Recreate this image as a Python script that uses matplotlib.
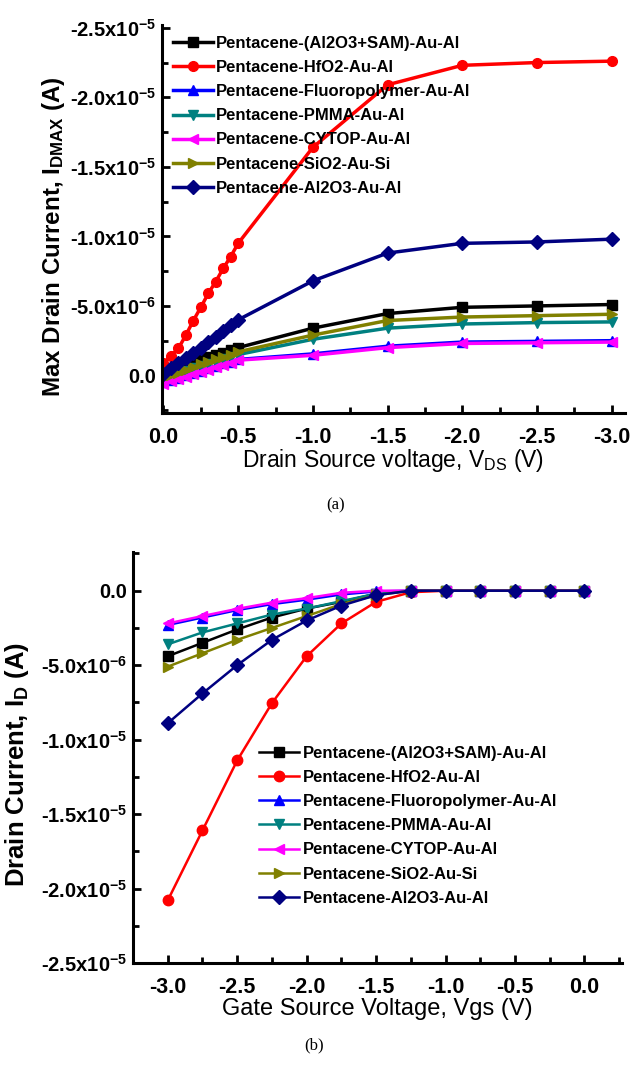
import matplotlib
matplotlib.use('Agg')
import matplotlib.pyplot as plt
from matplotlib.ticker import MultipleLocator, FuncFormatter

plt.rcParams['font.family'] = ['Liberation Sans', 'DejaVu Sans']
plt.rcParams['mathtext.fontset'] = 'custom'
plt.rcParams['mathtext.rm'] = 'Liberation Sans'
plt.rcParams['mathtext.bf'] = 'Liberation Sans:bold'
plt.rcParams['mathtext.it'] = 'Liberation Sans:italic'
plt.rcParams['axes.unicode_minus'] = False

labels = ['Pentacene-(Al2O3+SAM)-Au-Al', 'Pentacene-HfO2-Au-Al', 'Pentacene-Fluoropolymer-Au-Al',
          'Pentacene-PMMA-Au-Al', 'Pentacene-CYTOP-Au-Al', 'Pentacene-SiO2-Au-Si', 'Pentacene-Al2O3-Au-Al']
colors = ['black', '#ff0000', '#0000ff', '#008080', '#ff00ff', '#808000', '#000080']
markers = ['s', 'o', '^', 'v', '<', '>', 'D']

# (a) max drain current vs Vds, values in 1e-6 A
vds = [0.0, -0.05, -0.1, -0.15, -0.2, -0.25, -0.3, -0.35, -0.4, -0.45, -0.5, -1.0, -1.5, -2.0, -2.5, -3.0]
idmax_sam = [-0.1, -0.3, -0.5, -0.7, -0.9, -1.1, -1.3, -1.45, -1.65, -1.8, -2.0, -3.4, -4.45, -4.9, -5.0, -5.1]
idmax_hfo2 = [-0.9, -1.4, -1.95, -2.9, -3.95, -4.9, -5.9, -6.75, -7.7, -8.55, -9.5, -16.4, -20.9, -22.3, -22.5, -22.6]
idmax_fluoro = [0.5, 0.33, 0.16, -0.01, -0.18, -0.35, -0.52, -0.69, -0.86, -1.0, -1.15, -1.55, -2.1, -2.4, -2.45, -2.5]
idmax_pmma = [0.3, 0.1, -0.1, -0.3, -0.5, -0.65, -0.85, -1.0, -1.2, -1.35, -1.5, -2.6, -3.4, -3.7, -3.8, -3.85]
idmax_cytop = [0.6, 0.43, 0.26, 0.09, -0.08, -0.25, -0.42, -0.59, -0.76, -0.93, -1.1, -1.45, -2.0, -2.3, -2.35, -2.4]
idmax_sio2 = [0.2, 0.0, -0.2, -0.4, -0.6, -0.8, -0.95, -1.15, -1.3, -1.5, -1.7, -2.9, -3.95, -4.2, -4.3, -4.4]
idmax_al2o3 = [-0.1, -0.5, -0.9, -1.25, -1.65, -2.0, -2.4, -2.8, -3.2, -3.6, -4.0, -6.8, -8.8, -9.5, -9.6, -9.8]

# (b) drain current vs Vgs, values in 1e-6 A
vgs = [-3.0, -2.75, -2.5, -2.25, -2.0, -1.75, -1.5, -1.25, -1.0, -0.75, -0.5, -0.25, 0.0]
id_sam = [-4.4, -3.5, -2.6, -1.8, -1.2, -0.75, -0.2, 0, 0, 0, 0, 0, 0]
id_hfo2 = [-20.8, -16.1, -11.4, -7.55, -4.4, -2.2, -0.75, -0.1, 0, 0, 0, 0, 0]
id_fluoro = [-2.3, -1.8, -1.3, -0.9, -0.6, -0.25, -0.05, 0, 0, 0, 0, 0, 0]
id_pmma = [-3.6, -2.8, -2.2, -1.6, -1.2, -0.7, -0.2, 0, 0, 0, 0, 0, 0]
id_cytop = [-2.2, -1.7, -1.22, -0.8, -0.5, -0.14, 0, 0, 0, 0, 0, 0, 0]
id_sio2 = [-5.1, -4.2, -3.3, -2.5, -1.7, -0.9, -0.3, 0, 0, 0, 0, 0, 0]
id_al2o3 = [-8.9, -6.9, -5.0, -3.3, -2.0, -1.0, -0.3, 0, 0, 0, 0, 0, 0]

top_series = [idmax_sam, idmax_hfo2, idmax_fluoro, idmax_pmma, idmax_cytop, idmax_sio2, idmax_al2o3]
bot_series = [id_sam, id_hfo2, id_fluoro, id_pmma, id_cytop, id_sio2, id_al2o3]


def sci_fmt(v, pos):
    if abs(v) < 1e-12:
        return '0.0'
    e = 0
    m = v
    while abs(m) < 1:
        m *= 10
        e -= 1
    return '%.1fx10$^{\\mathbf{%d}}$' % (m, e)


def x_fmt(v, pos):
    if abs(v) < 1e-9:
        return '0.0'
    return '%.1f' % v


def style_axes(ax):
    for s in ['top', 'right']:
        ax.spines[s].set_visible(False)
    for s in ['left', 'bottom']:
        ax.spines[s].set_linewidth(2.2)
    ax.tick_params(which='major', direction='in', length=6, width=2)
    ax.tick_params(which='minor', direction='in', length=4, width=2)
    ax.tick_params(axis='x', which='major', pad=10, labelsize=15.5)
    ax.tick_params(axis='y', which='major', pad=4, labelsize=14.5)
    ax.xaxis.set_major_locator(MultipleLocator(0.5))
    ax.xaxis.set_minor_locator(MultipleLocator(0.25))
    ax.yaxis.set_major_locator(MultipleLocator(5e-6))
    ax.yaxis.set_minor_locator(MultipleLocator(2.5e-6))
    ax.yaxis.set_major_formatter(FuncFormatter(sci_fmt))
    ax.xaxis.set_major_formatter(FuncFormatter(x_fmt))
    for lab in ax.get_xticklabels() + ax.get_yticklabels():
        lab.set_fontweight('bold')


fig = plt.figure(figsize=(6.3, 10.67), dpi=100)

ax1 = fig.add_axes([162 / 630, 1 - 413 / 1067, (625 - 162) / 630, (413 - 25) / 1067])
for ys, c, m, lab in zip(top_series, colors, markers, labels):
    ax1.plot(vds, [y * 1e-6 for y in ys], c=c, marker=m, ms=7, lw=2.5, label=lab)
ax1.set_xlim(0.01, -3.09)
ax1.set_ylim(2.7e-6, -2.52e-5)
style_axes(ax1)
ax1.set_ylabel('Max Drain Current, I$_{\\mathbf{DMAX}}$ (A)', fontsize=17.4, fontweight='bold')
ax1.yaxis.set_label_coords(-0.205, 0.454)
ax1.set_xlabel('Drain Source voltage, V$_{\\mathrm{DS}}$ (V)', fontsize=16.5, labelpad=-1)
ax1.legend(loc='upper left', bbox_to_anchor=(0.0, 1.0), frameon=False,
           prop={'weight': 'bold', 'size': 12}, handlelength=2.4, handletextpad=0.2,
           labelspacing=0.55, borderaxespad=0.25)

ax2 = fig.add_axes([133 / 630, 1 - 963 / 1067, (622 - 133) / 630, (963 - 552) / 1067])
for ys, c, m, lab in zip(bot_series, colors, markers, labels):
    ax2.plot(vgs, [y * 1e-6 for y in ys], c=c, marker=m, ms=7.5, lw=1.8, label=lab)
ax2.set_xlim(-3.25, 0.27)
ax2.set_ylim(-2.5e-5, 2.6e-6)
style_axes(ax2)
ax2.set_ylabel('Drain Current, I$_{\\mathbf{D}}$ (A)', fontsize=18.5, fontweight='bold')
ax2.yaxis.set_label_coords(-0.209, 0.484)
ax2.set_xlabel('Gate Source Voltage, Vgs (V)', fontsize=17, labelpad=0)
ax2.legend(loc='upper left', bbox_to_anchor=(0.245, 0.545), frameon=False,
           prop={'weight': 'bold', 'size': 12}, handlelength=2.4, handletextpad=0.2,
           labelspacing=0.55, borderaxespad=0.0)

fig.text(336 / 630, 1 - 505 / 1067, '(a)', family='Liberation Serif', fontsize=12, ha='center', va='center')
fig.text(314 / 630, 1 - 1045 / 1067, '(b)', family='Liberation Serif', fontsize=12, ha='center', va='center')

fig.savefig('out.png', dpi=100)
